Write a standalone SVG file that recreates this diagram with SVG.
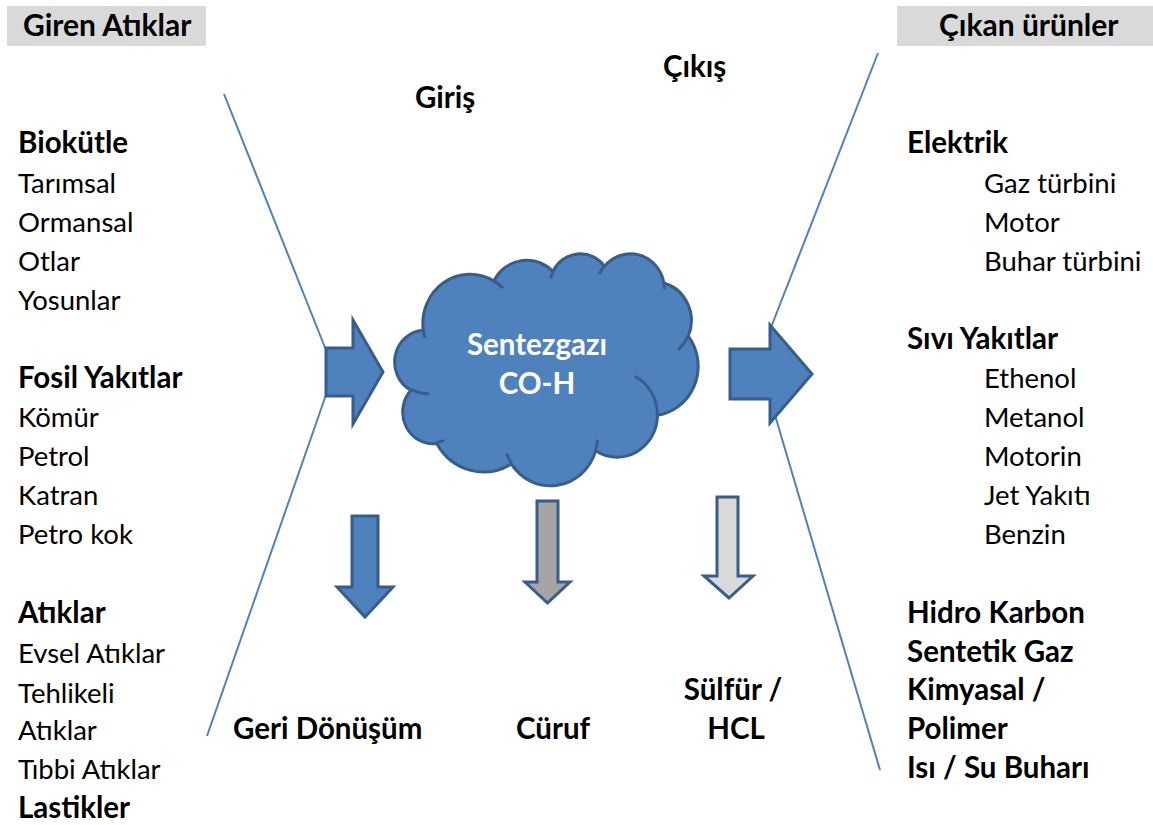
<svg xmlns="http://www.w3.org/2000/svg" width="1153" height="825" viewBox="0 0 1153 825">
<style>
text{font-family:Lato,"Liberation Sans",sans-serif;fill:#000}
.h{font-size:30px;font-weight:bold}
.b{font-size:29.5px;font-weight:bold}
.r{font-size:27.5px}
.ln{stroke:#4f81bd;stroke-width:2;fill:none}
.arr{stroke:#385d8a;stroke-width:3;stroke-linejoin:miter}
.blue{fill:#4f81bd}
.cw{fill:#fff;font-size:29.5px;font-weight:bold;text-anchor:middle}
</style>
<rect width="1153" height="825" fill="#fff"/>
<g id="header-left">
<rect x="7" y="6" width="199" height="40" fill="#d9d9d9"/>
<text class="h" x="23" y="36">Giren Atıklar</text>
</g>
<g id="header-right">
<rect x="897" y="6" width="256" height="40" fill="#d9d9d9"/>
<text class="h" x="939" y="36">Çıkan ürünler</text>
</g>
<g id="connectors">
<line class="ln" x1="224" y1="94" x2="326" y2="350"/>
<line class="ln" x1="327" y1="392" x2="207" y2="736"/>
<line class="ln" x1="878" y1="53" x2="770" y2="330"/>
<line class="ln" x1="772" y1="405" x2="880" y2="770"/>
</g>
<g id="labels-io">
<text class="b" x="415" y="108">Giriş</text>
<text class="b" x="663" y="77">Çıkış</text>
</g>
<g id="inputs">
<text class="b" x="18" y="153">Biokütle</text>
<text class="r" x="18" y="193">Tarımsal</text>
<text class="r" x="18" y="232">Ormansal</text>
<text class="r" x="18" y="271">Otlar</text>
<text class="r" x="18" y="310">Yosunlar</text>
<text class="b" x="18" y="388">Fosil Yakıtlar</text>
<text class="r" x="18" y="427">Kömür</text>
<text class="r" x="18" y="466">Petrol</text>
<text class="r" x="18" y="505">Katran</text>
<text class="r" x="18" y="544">Petro kok</text>
<text class="b" x="18" y="623">Atıklar</text>
<text class="r" x="18" y="663">Evsel Atıklar</text>
<text class="r" x="18" y="703">Tehlikeli</text>
<text class="r" x="18" y="740">Atıklar</text>
<text class="r" x="18" y="779">Tıbbi Atıklar</text>
<text class="b" x="18" y="818">Lastikler</text>
</g>
<g id="outputs">
<text class="b" x="907" y="153">Elektrik</text>
<text class="r" x="984" y="193">Gaz türbini</text>
<text class="r" x="984" y="232">Motor</text>
<text class="r" x="984" y="271">Buhar türbini</text>
<text class="b" x="907" y="349">Sıvı Yakıtlar</text>
<text class="r" x="984" y="388">Ethenol</text>
<text class="r" x="984" y="427">Metanol</text>
<text class="r" x="984" y="466">Motorin</text>
<text class="r" x="984" y="505">Jet Yakıtı</text>
<text class="r" x="984" y="544">Benzin</text>
<text class="b" x="907" y="623">Hidro Karbon</text>
<text class="b" x="907" y="662">Sentetik Gaz</text>
<text class="b" x="907" y="700">Kimyasal /</text>
<text class="b" x="907" y="739">Polimer</text>
<text class="b" x="907" y="778">Isı / Su Buharı</text>
</g>
<g id="arrow-in">
<polygon class="arr blue" points="326,348 353,348 353,320 383,372 353,424 353,396 326,396"/>
</g>
<g id="arrow-out">
<polygon class="arr blue" points="730,349 770,349 770,325 812,374 770,423 770,399 730,399"/>
</g>
<g id="cloud">
<g transform="translate(396,253) scale(0.0069907,0.0053704)">
<path fill="#4f81bd" stroke="#385d8a" stroke-width="3" vector-effect="non-scaling-stroke" d="M3900 14370 A6753 9190 0 0 1 14005 5202 A5333 7267 0 0 1 22452 3435 A4365 5945 0 0 1 29826 2482 A4857 6595 0 0 1 38315 5574 A5333 7273 0 0 1 41816 15464 A6775 9220 0 0 1 37402 30210 A5785 7867 0 0 1 28553 36819 A6752 9215 0 0 1 16484 39273 A7720 10543 0 0 1 5826 35485 A4360 5918 0 0 1 2130 25568 A4345 5945 0 0 1 3900 14370 Z"/>
<path fill="none" stroke="#385d8a" stroke-width="3" vector-effect="non-scaling-stroke" d="M4693 26177 A4345 5945 0 0 1 2170 25387 M6928 34899 A4360 5918 0 0 1 5818 35282 M16478 39090 A6752 9215 0 0 1 15808 37349 M28827 34751 A6752 9215 0 0 1 28559 36665 M34129 22954 A5785 7867 0 0 1 37379 30088 M41798 15354 A5333 7273 0 0 1 40346 18031 M38324 5426 A4857 6595 0 0 1 38400 6687 M29078 3952 A4857 6595 0 0 1 29818 2341 M22141 4720 A4365 5945 0 0 1 22501 3330 M14000 5192 A6753 9190 0 0 1 15301 6542 M4127 15789 A6753 9190 0 0 1 3900 14370"/>
</g>
<text class="cw" x="537" y="355">Sentezgazı</text>
<text class="cw" x="537" y="394">CO-H</text>
</g>
<g id="arrow-recycle">
<polygon class="arr blue" points="352,516 378,516 378,587 393,587 365,617 337,587 352,587"/>
</g>
<g id="arrow-slag">
<polygon class="arr" fill="#a5a5a5" points="537,501 558,501 558,582 570,582 547.5,603 525,582 537,582"/>
</g>
<g id="arrow-sulfur">
<polygon class="arr" fill="#d9d9d9" points="717,497 738,497 738,576 753,576 729,598 704,576 717,576"/>
</g>
<g id="bottom-labels">
<text class="b" x="233" y="739">Geri Dönüşüm</text>
<text class="b" x="516" y="739">Cüruf</text>
<text class="b" x="733" y="700" text-anchor="middle">Sülfür /</text>
<text class="b" x="736" y="739" text-anchor="middle">HCL</text>
</g>
</svg>
